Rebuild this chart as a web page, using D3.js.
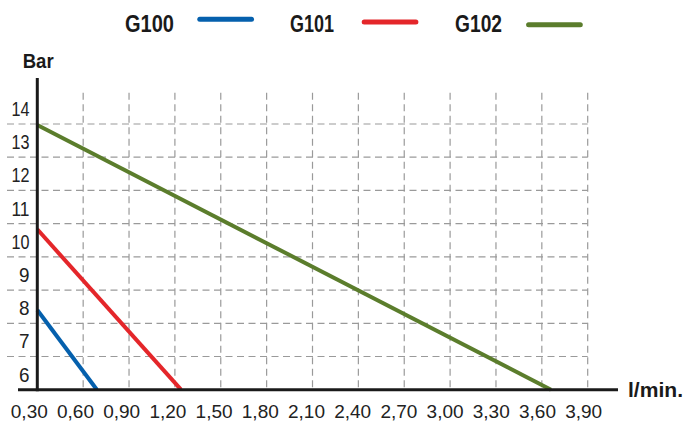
<!DOCTYPE html>
<html>
<head>
<meta charset="utf-8">
<script src="https://cdn.jsdelivr.net/npm/d3@7"></script>
<style>
  body { margin: 0; background: #fff; }
  svg { display: block; font-family: "Liberation Sans", Arial, sans-serif; }
</style>
</head>
<body>
<div id="plot"></div>
<script>
// Series: flow (l/min) vs pressure (Bar)
var seriesNames = ["G100", "G101", "G102"];
var seriesColors = ["#0560ad", "#e4262a", "#5b7d2c"];
var g100 = [[0.30, 7.9], [0.69, 5.5]];
var g101 = [[0.30, 10.33], [1.24, 5.5]];
var g102 = [[0.30, 13.47], [3.66, 5.5]];
var seriesData = [g100, g101, g102];

var xTicks = [0.30, 0.60, 0.90, 1.20, 1.50, 1.80, 2.10, 2.40, 2.70, 3.00, 3.30, 3.60, 3.90];
var yTicks = [6, 7, 8, 9, 10, 11, 12, 13, 14];
var yGrid = [6.5, 7.5, 8.5, 9.5, 10.5, 11.5, 12.5, 13.5];

var width = 700, height = 421;

var svg = d3.select("#plot")
	.append("svg")
	.attr("width", width)
	.attr("height", height);

// Scales (axis line sits at 5.5, labels between grid lines)
var x = d3.scaleLinear()
	.domain([0.30, 3.90])
	.range([37.3, 587.7]);
var y = d3.scaleLinear()
	.domain([5.5, 13.5])
	.range([389.7, 124]);

var fmt = function(d){ return d3.format(".2f")(d).replace(".", ","); };

// Grid
var grid = svg.append("g")
	.attr("stroke", "#9a9a9a")
	.attr("stroke-width", 1.2)
	.attr("stroke-dasharray", "7,4.5");
grid.selectAll("line.h")
	.data(yGrid)
	.enter().append("line")
	.attr("class", "h")
	.attr("x1", 7).attr("x2", x(3.90))
	.attr("y1", function(d){ return y(d); })
	.attr("y2", function(d){ return y(d); });
grid.selectAll("line.v")
	.data(xTicks.slice(1))
	.enter().append("line")
	.attr("class", "v")
	.attr("y1", y(14.44)).attr("y2", y(5.5))
	.attr("x1", function(d){ return x(d); })
	.attr("x2", function(d){ return x(d); });

// Series lines
var line = d3.line()
	.x(function(d){ return x(d[0]); })
	.y(function(d){ return y(d[1]); });
svg.append("g")
	.selectAll("path")
	.data(seriesData)
	.enter().append("path")
	.attr("d", line)
	.attr("fill", "none")
	.attr("stroke", function(d, i){ return seriesColors[i]; })
	.attr("stroke-width", 4);

// Axes
svg.append("line")
	.attr("x1", 18).attr("x2", 618)
	.attr("y1", y(5.5)).attr("y2", y(5.5))
	.attr("stroke", "#1a1a1a").attr("stroke-width", 3);
svg.append("line")
	.attr("x1", x(0.30)).attr("x2", x(0.30))
	.attr("y1", 78).attr("y2", y(5.5) + 1.5)
	.attr("stroke", "#1a1a1a").attr("stroke-width", 3);

// Tick labels
svg.append("g")
	.selectAll("text")
	.data(xTicks)
	.enter().append("text")
	.attr("x", function(d, i){ return x(d) - 8 + i * 0.33; })
	.attr("y", 418)
	.attr("text-anchor", "middle")
	.style("font-size", "19px")
	.attr("fill", "#222")
	.text(fmt);

svg.append("g")
	.selectAll("text")
	.data(yTicks)
	.enter().append("text")
	.attr("x", function(d){ return d >= 10 ? 11.5 : 19; })
	.attr("y", function(d){ return y(d) + 8.5; })
	.attr("textLength", function(d){ return d >= 10 ? 18 : 10.5; })
	.attr("lengthAdjust", "spacingAndGlyphs")
	.style("font-size", "20px")
	.attr("fill", "#222")
	.text(function(d){ return d; });

// Axis titles
svg.append("text")
	.attr("x", 22.7).attr("y", 68.3)
	.attr("textLength", 31)
	.attr("lengthAdjust", "spacingAndGlyphs")
	.style("font-size", "21px").style("font-weight", "bold")
	.attr("fill", "#1a1a1a")
	.text("Bar");
svg.append("text")
	.attr("x", 628).attr("y", 397)
	.attr("textLength", 55)
	.attr("lengthAdjust", "spacingAndGlyphs")
	.style("font-size", "20px").style("font-weight", "bold")
	.attr("fill", "#1a1a1a")
	.text("l/min.");

// Legend
var legendX = [125, 290, 455];
var legendW = [49, 44, 47];
var legend = svg.append("g")
	.selectAll("g")
	.data(seriesNames)
	.enter().append("g");
legend.append("text")
	.attr("x", function(d, i){ return legendX[i]; })
	.attr("y", 31.7)
	.attr("textLength", function(d, i){ return legendW[i]; })
	.attr("lengthAdjust", "spacingAndGlyphs")
	.style("font-size", "23px").style("font-weight", "bold")
	.attr("fill", "#1a1a1a")
	.text(function(d){ return d; });
legend.append("line")
	.attr("x1", function(d, i){ return legendX[i] + 74.8 - i * 0.6; })
	.attr("x2", function(d, i){ return legendX[i] + 126.5 - i * 0.6; })
	.attr("y1", function(d, i){ return 19.2 + i * 2.8; })
	.attr("y2", function(d, i){ return 19.2 + i * 2.8; })
	.attr("stroke", function(d, i){ return seriesColors[i]; })
	.attr("stroke-width", 5)
	.attr("stroke-linecap", "round");
</script>
</body>
</html>
